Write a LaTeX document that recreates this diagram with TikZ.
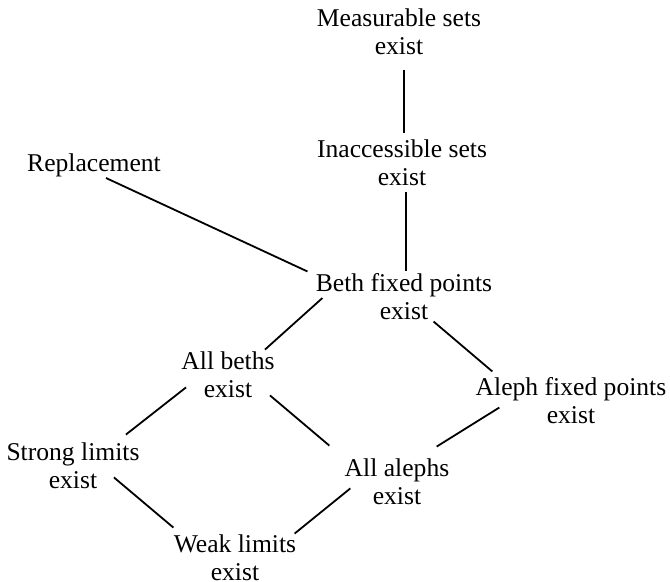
\documentclass[tikz,border=0pt]{standalone}
\usepackage{fontspec}
\setmainfont{Liberation Serif}
\begin{document}
\begin{tikzpicture}[x=0.5pt,y=-0.5pt]
\tikzstyle{claim}=[align=center,inner sep=3pt,font=\fontsize{12.8}{14}\selectfont]
\tikzstyle{edge}=[draw,line width=0.9pt]
\useasboundingbox (0,0) rectangle (670,582);

\node[claim] (meas) at (399,32) {Measurable sets\\exist};
\node[claim] (inacc) at (402,163) {Inaccessible sets\\exist};
\node[claim] (repl) at (94,165) {Replacement};
\node[claim] (bfix) at (404,297) {Beth fixed points\\exist};
\node[claim] (beths) at (228,375) {All beths\\exist};
\node[claim] (afix) at (571,401) {Aleph fixed points\\exist};
\node[claim] (strong) at (73,466) {Strong limits\\exist};
\node[claim] (alephs) at (397,482) {All alephs\\exist};
\node[claim] (weak) at (235,558) {Weak limits\\exist};

\path ([shift={(5,9)}]meas.south) edge[edge] ([shift={(2,-1)}]inacc.north);
\path ([shift={(4,0)}]inacc.south) edge[edge] ([shift={(2,4)}]bfix.north);
\path ([shift={(12,-5)}]repl.south) edge[edge] ([shift={(-2,4)}]bfix.north west);
\path ([shift={(13,1)}]bfix.west) edge[edge] ([shift={(-16,4)}]beths.north east);
\path ([shift={(-65,-5)}]bfix.south east) edge[edge] ([shift={(23,0)}]afix.north west);
\path ([shift={(11,-17)}]beths.south west) edge[edge] ([shift={(-20,-2)}]strong.north east);
\path ([shift={(-11,-9)}]beths.south east) edge[edge] ([shift={(-9,-7)}]alephs.north west);
\path ([shift={(30,-23)}]afix.south west) edge[edge] ([shift={(-19,-6)}]alephs.north east);
\path ([shift={(-32,-18)}]strong.south east) edge[edge] ([shift={(6,-1)}]weak.north west);
\path ([shift={(12,-23)}]alephs.south west) edge[edge] ([shift={(-8,5)}]weak.north east);
\end{tikzpicture}
\end{document}
